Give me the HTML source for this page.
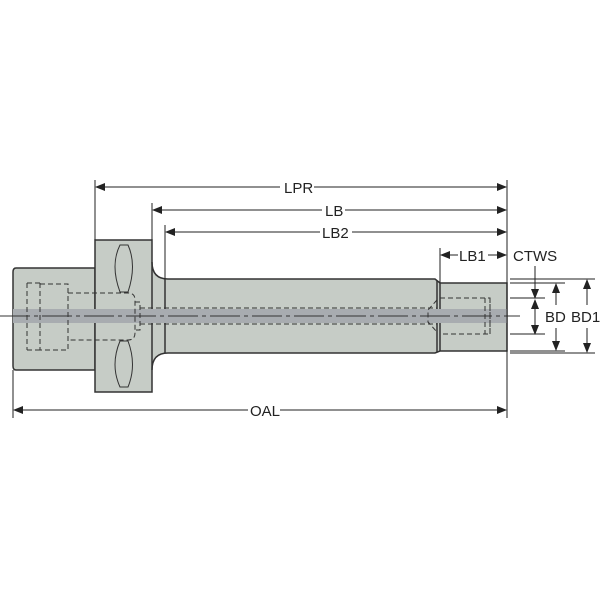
<!DOCTYPE html>
<html><head><style>body{margin:0;background:#fff}svg{display:block}</style></head><body>
<svg width="600" height="600" viewBox="0 0 600 600" xmlns="http://www.w3.org/2000/svg" font-family="Liberation Sans, sans-serif">
<defs><marker id="a" markerWidth="10" markerHeight="8" refX="9" refY="4" orient="auto-start-reverse" markerUnits="userSpaceOnUse"><path d="M0,0 L10,4 L0,8z" fill="#222"/></marker></defs>
<g stroke="#333" stroke-width="1.5" fill="#c6ccc6">
<path d="M16,268 L95,268 L95,370 L16,370 Q13,370 13,366 L13,272 Q13,268 16,268Z"/>
<path d="M152,240 L152,262 Q152,279 168,279 L435,279 L440,283 L507,283 L507,351 L440,351 L435,353 L168,353 Q152,353 152,370 L152,392 L95,392 L95,240Z"/>
<line x1="165" y1="279" x2="165" y2="353"/><line x1="437" y1="281" x2="437" y2="352"/>
<line x1="440" y1="283" x2="440" y2="351"/><line x1="152" y1="262" x2="152" y2="370"/>
</g>
<rect x="13" y="309" width="494" height="14" fill="#a8acb0"/>
<g fill="none" stroke="#333" stroke-width="1">
<path d="M120,245 Q110,265 120,292 L128,292 Q137,265 128,245Z M120,341 Q110,365 120,387 L128,387 Q137,365 128,341Z"/>
<line x1="0" y1="316" x2="520" y2="316" stroke-dasharray="30,4,4,4"/>
<g stroke-dasharray="5,3">
<path d="M27,283 V350 M40,283 V350 M27,283 H40 M27,350 H40 M40,284 H68 V350 H40 M68,293 H128 Q135,293 135,300 V333 Q135,340 128,340 H68 M135,302 H140 V330 H135 M140,308 H437 M140,324 H437"/>
<path d="M440,298 H490 V334 H440 M490,298 V334 M485,298 V334 M437,300 L428,310 V322 L437,332"/>
</g>
</g>
<g stroke="#222" stroke-width="1" fill="none">
<line x1="95" y1="180" x2="95" y2="240"/><line x1="152" y1="203" x2="152" y2="240"/><line x1="165" y1="225" x2="165" y2="279"/>
<line x1="440" y1="248" x2="440" y2="283"/><line x1="507" y1="180" x2="507" y2="418"/><line x1="13" y1="370" x2="13" y2="418"/>
<line x1="96" y1="187" x2="280" y2="187" marker-start="url(#a)"/><line x1="314" y1="187" x2="506" y2="187" marker-end="url(#a)"/>
<line x1="153" y1="210" x2="322" y2="210" marker-start="url(#a)"/><line x1="345" y1="210" x2="506" y2="210" marker-end="url(#a)"/>
<line x1="166" y1="232" x2="320" y2="232" marker-start="url(#a)"/><line x1="352" y1="232" x2="506" y2="232" marker-end="url(#a)"/>
<line x1="441" y1="255" x2="458" y2="255" marker-start="url(#a)"/><line x1="488" y1="255" x2="506" y2="255" marker-end="url(#a)"/>
<line x1="14" y1="410" x2="248" y2="410" marker-start="url(#a)"/><line x1="280" y1="410" x2="506" y2="410" marker-end="url(#a)"/>
<line x1="510" y1="279" x2="595" y2="279"/><line x1="510" y1="283" x2="565" y2="283"/><line x1="510" y1="351" x2="565" y2="351"/><line x1="510" y1="353" x2="595" y2="353"/>
<line x1="510" y1="298" x2="545" y2="298"/><line x1="510" y1="334" x2="545" y2="334"/>
<line x1="535" y1="266" x2="535" y2="298" marker-end="url(#a)"/><line x1="535" y1="300" x2="535" y2="334" marker-start="url(#a)" marker-end="url(#a)"/>
<line x1="556" y1="284" x2="556" y2="305" marker-start="url(#a)"/><line x1="556" y1="328" x2="556" y2="350" marker-end="url(#a)"/>
<line x1="587" y1="280" x2="587" y2="305" marker-start="url(#a)"/><line x1="587" y1="328" x2="587" y2="352" marker-end="url(#a)"/>
</g>
<g font-size="15" fill="#222">
<text x="284" y="193">LPR</text><text x="325" y="216">LB</text><text x="322" y="238">LB2</text>
<text x="459" y="261">LB1</text><text x="513" y="261">CTWS</text><text x="250" y="416">OAL</text>
<text x="545" y="322">BD</text><text x="571" y="322">BD1</text>
</g>
</svg>
</body></html>
